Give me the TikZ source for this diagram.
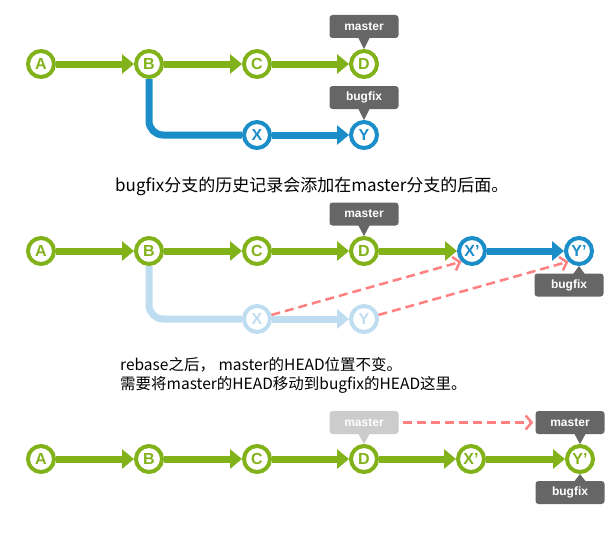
\documentclass[tikz,border=0pt]{standalone}
\usepackage{fontspec}
\setmainfont{Liberation Sans}
\newfontfamily\cjkfont{Noto Sans CJK SC}
\usetikzlibrary{arrows.meta}
\definecolor{cgreen}{RGB}{130,178,26}
\definecolor{cblue}{RGB}{27,141,200}
\definecolor{cfade}{RGB}{190,221,240}
\definecolor{cred}{RGB}{255,128,128}
\definecolor{cgray}{RGB}{102,102,102}
\definecolor{clight}{RGB}{204,204,204}
\begin{document}
\begin{tikzpicture}[x=1pt,y=-1pt,
 commit/.style={circle, draw=#1, text=#1, line width=4pt, fill=white, minimum size=26pt, inner sep=0pt, font=\bfseries\fontsize{16}{16}\selectfont},
 link/.style={draw=#1, line width=7pt, -{Triangle[length=12pt,width=19pt]}},
 branchline/.style={draw=#1, line width=7pt, rounded corners=14pt},
 tag/.style={fill=#1, rounded corners=3pt, minimum width=69pt, minimum height=23pt, inner sep=0pt, text=white, font=\bfseries\fontsize{12}{12}\selectfont},
 move/.style={draw=cred, line width=2.5pt, dash pattern=on 9pt off 5pt, -{Straight Barb[length=6pt,width=14pt]}},
 caption/.style={font=\cjkfont\fontsize{#1}{19}\selectfont, anchor=west, inner sep=0pt, align=left},
]
\useasboundingbox[fill=white] (0,0) rectangle (615,535);

% ---------- row 1 ----------
\node[commit=cgreen] (a1) at (41,64) {A};
\node[commit=cgreen] (b1) at (149,64) {B};
\node[commit=cgreen] (c1) at (257,64) {C};
\node[commit=cgreen] (d1) at (364,64) {D};
\node[commit=cblue] (x1) at (257,135) {X};
\node[commit=cblue] (y1) at (364,135) {Y};
\draw[link=cgreen] (a1) -- (b1);
\draw[link=cgreen] (b1) -- (c1);
\draw[link=cgreen] (c1) -- (d1);
\draw[branchline=cblue] (b1.south) |- (x1.west);
\draw[link=cblue] (x1) -- (y1);
\node[tag=cgray] (m1) at (364,26.5) {master};
\fill[cgray] ([xshift=-6pt,yshift=1pt]m1.south) -- (d1.north) -- ([xshift=6pt,yshift=1pt]m1.south) -- cycle;
\node[tag=cgray] (f1) at (364,97.5) {bugfix};
\fill[cgray] ([xshift=-6pt,yshift=1pt]f1.south) -- (y1.north) -- ([xshift=6pt,yshift=1pt]f1.south) -- cycle;

\node[caption=17] (t1) at (115,186) {bugfix分支的历史记录会添加在master分支的后面。};

% ---------- row 2 ----------
\node[commit=cgreen] (a2) at (41,251) {A};
\node[commit=cgreen] (b2) at (149,251) {B};
\node[commit=cgreen] (c2) at (257,251) {C};
\node[commit=cgreen] (d2) at (364,251) {D};
\node[commit=cblue] (xp2) at (472,251) {X’};
\node[commit=cblue] (yp2) at (579,251) {Y’};
\node[commit=cfade] (xf2) at (257,319) {X};
\node[commit=cfade] (yf2) at (364,319) {Y};
\draw[link=cgreen] (a2) -- (b2);
\draw[link=cgreen] (b2) -- (c2);
\draw[link=cgreen] (c2) -- (d2);
\draw[link=cgreen] (d2) -- (xp2);
\draw[link=cblue] (xp2) -- (yp2);
\draw[branchline=cfade] (b2.south) |- (xf2.west);
\draw[link=cfade] (xf2) -- (yf2);
\draw[move] (xf2) -- (xp2.south west);
\draw[move] (yf2) -- (yp2.south west);
\node[tag=cgray] (m2) at (364,214) {master};
\fill[cgray] ([xshift=-6pt,yshift=1pt]m2.south) -- (d2.north) -- ([xshift=6pt,yshift=1pt]m2.south) -- cycle;
\node[tag=cgray] (f2) at (569,285) {bugfix};
\fill[cgray] (yp2.south) -- ([xshift=-6pt,yshift=-1pt]yp2.south |- f2.north) -- ([xshift=6pt,yshift=-1pt]yp2.south |- f2.north) -- cycle;

\node[caption=15.5] (t2) at (120,375.5) {rebase之后， master的HEAD位置不变。\\需要将master的HEAD移动到bugfix的HEAD这里。};

% ---------- row 3 ----------
\node[commit=cgreen] (a3) at (41,459) {A};
\node[commit=cgreen] (b3) at (149,459) {B};
\node[commit=cgreen] (c3) at (257,459) {C};
\node[commit=cgreen] (d3) at (364,459) {D};
\node[commit=cgreen] (xp3) at (471,459) {X’};
\node[commit=cgreen] (yp3) at (580,459) {Y’};
\draw[link=cgreen] (a3) -- (b3);
\draw[link=cgreen] (b3) -- (c3);
\draw[link=cgreen] (c3) -- (d3);
\draw[link=cgreen] (d3) -- (xp3);
\draw[link=cgreen] (xp3) -- (yp3);
\node[tag=clight] (mo3) at (364,422.5) {master};
\fill[clight] ([xshift=-6pt,yshift=1pt]mo3.south) -- (d3.north) -- ([xshift=6pt,yshift=1pt]mo3.south) -- cycle;
\node[tag=cgray] (mn3) at (570,422.5) {master};
\fill[cgray] (yp3.north) -- ([xshift=-6pt,yshift=1pt]yp3.north |- mn3.south) -- ([xshift=6pt,yshift=1pt]yp3.north |- mn3.south) -- cycle;
\node[tag=cgray] (f3) at (570,492.5) {bugfix};
\fill[cgray] (yp3.south) -- ([xshift=-6pt,yshift=-1pt]yp3.south |- f3.north) -- ([xshift=6pt,yshift=-1pt]yp3.south |- f3.north) -- cycle;
\draw[move, shorten <=4pt, shorten >=2pt] (mo3) -- (mn3);
\end{tikzpicture}
\end{document}
